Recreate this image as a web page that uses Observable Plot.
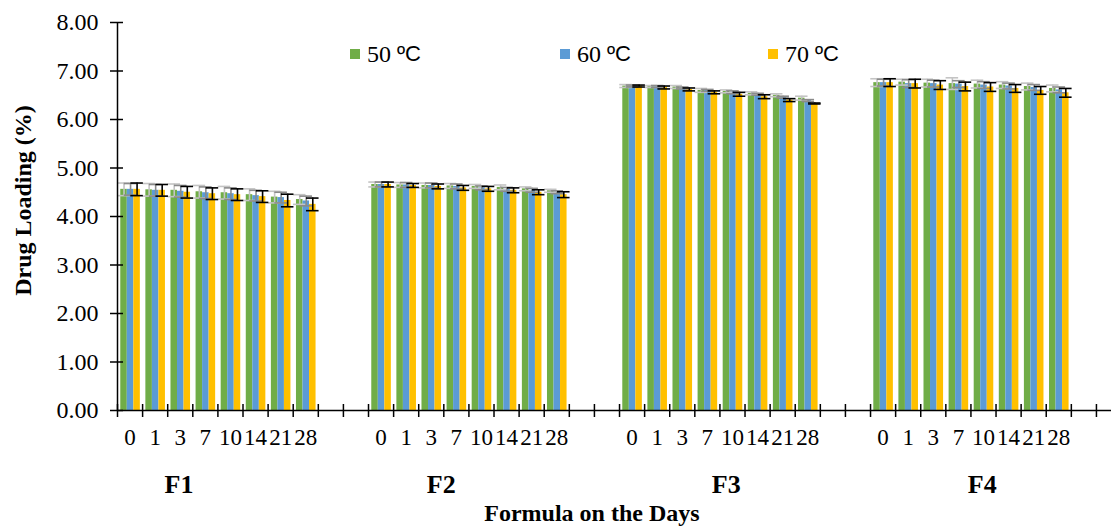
<!DOCTYPE html>
<html>
<head>
<meta charset="utf-8">
<script src="https://cdn.jsdelivr.net/npm/d3@7"></script>
<script src="https://cdn.jsdelivr.net/npm/@observablehq/plot@0.6"></script>
<style>
  html, body { margin: 0; padding: 0; background: #fff; }
  #wrap { position: relative; width: 1111px; height: 527px; }
  .item { position: absolute; top: 41px; height: 26px; display: flex; align-items: center; white-space: nowrap;
          font-family: "Liberation Serif", serif; font-size: 24px; color: #000; }
  .sw { width: 10px; height: 10px; margin-right: 7px; }
  .deg { font-family: "Liberation Sans", sans-serif; font-size: 22px; }
</style>
</head>
<body>
<div id="wrap"></div>
<script>
// ---- data ----
const formulas = ["F1", "F2", "F3", "F4"];
const days = ["0", "1", "3", "7", "10", "14", "21", "28"];
const temps = ["50 ºC", "60 ºC", "70 ºC"];
const colors = ["#70AD47", "#5B9BD5", "#FFC000"];
const errColors = ["#C4C4C4", "#8A8A8A", "#000000"];

// values ordered F1 days..., F2 days..., F3 days..., F4 days...
const loading50 = [4.56, 4.55, 4.54, 4.51, 4.49, 4.45, 4.40, 4.35,
                   4.66, 4.65, 4.64, 4.63, 4.62, 4.60, 4.57, 4.53,
                   6.69, 6.68, 6.67, 6.60, 6.58, 6.54, 6.50, 6.44,
                   6.76, 6.77, 6.75, 6.74, 6.73, 6.71, 6.68, 6.64];
const loading60 = [4.56, 4.54, 4.52, 4.49, 4.47, 4.43, 4.39, 4.32,
                   4.66, 4.65, 4.64, 4.62, 4.59, 4.56, 4.54, 4.50,
                   6.69, 6.68, 6.65, 6.60, 6.56, 6.52, 6.46, 6.39,
                   6.76, 6.74, 6.74, 6.73, 6.71, 6.69, 6.66, 6.61];
const loading70 = [4.56, 4.54, 4.50, 4.47, 4.45, 4.41, 4.33, 4.25,
                   4.66, 4.64, 4.62, 4.59, 4.57, 4.54, 4.50, 4.45,
                   6.69, 6.66, 6.62, 6.56, 6.52, 6.47, 6.40, 6.33,
                   6.76, 6.74, 6.71, 6.68, 6.67, 6.64, 6.60, 6.55];
const err50 = [0.13, 0.13, 0.13, 0.13, 0.13, 0.12, 0.12, 0.10,
               0.05, 0.05, 0.05, 0.05, 0.04, 0.05, 0.04, 0.03,
               0.03, 0.02, 0.03, 0.04, 0.03, 0.03, 0.03, 0.04,
               0.08, 0.06, 0.08, 0.12, 0.08, 0.07, 0.07, 0.07];
const err60 = [0.12, 0.12, 0.12, 0.12, 0.12, 0.11, 0.11, 0.10,
               0.05, 0.05, 0.05, 0.05, 0.04, 0.04, 0.04, 0.03,
               0.02, 0.02, 0.02, 0.02, 0.03, 0.02, 0.02, 0.02,
               0.07, 0.08, 0.07, 0.07, 0.07, 0.06, 0.06, 0.06];
const err70 = [0.13, 0.12, 0.12, 0.12, 0.12, 0.12, 0.13, 0.13,
               0.05, 0.04, 0.05, 0.05, 0.05, 0.05, 0.05, 0.06,
               0.02, 0.03, 0.03, 0.03, 0.04, 0.04, 0.03, 0.01,
               0.08, 0.09, 0.09, 0.09, 0.09, 0.08, 0.08, 0.09];
const yTicks = [0, 1, 2, 3, 4, 5, 6, 7, 8];
const yLabel = "Drug Loading (%)";
const xLabel = "Formula on the Days";

// ---- layout helpers (category slots) ----
const gapSlots = 2;
const perGroup = days.length + gapSlots;     // slots per formula block
const slotCount = 39.6;                      // visible extent of the category axis
const barOffset = 0.13, barWidth = 0.26, capHalf = 0.25;
const fLabelAt = [2.45, 2.9, 4.25, 4.45];    // where each formula label sits in its block
const xTitleAt = 18.9;

const series = [loading50, loading60, loading70];
const errs = [err50, err60, err70];
const rows = [];
series.forEach((vals, k) => vals.forEach((v, j) => {
  const g = Math.floor(j / days.length), d = j % days.length;
  const slot = g * perGroup + d;
  rows.push({formula: formulas[g], day: days[d], temp: temps[k], k, slot,
             x1: slot + barOffset + k * barWidth, x2: slot + barOffset + (k + 1) * barWidth,
             xc: slot + barOffset + (k + 0.5) * barWidth,
             value: v, lo: v - errs[k][j], hi: v + errs[k][j]});
}));
const dayRows = [];
formulas.forEach((f, g) => days.forEach((d, i) => dayRows.push({day: d, slot: g * perGroup + i})));
const boundaries = d3.range(0, Math.floor(slotCount) + 1);

const marks = [];
// bars
temps.forEach((t, k) => {
  marks.push(Plot.rectY(rows.filter(r => r.k === k), {x1: "x1", x2: "x2", y1: 0, y2: "value", fill: colors[k]}));
});
// error bars
temps.forEach((t, k) => {
  const rs = rows.filter(r => r.k === k);
  marks.push(Plot.ruleX(rs, {x: "xc", y1: "lo", y2: "hi", stroke: errColors[k], strokeWidth: 1.6}));
  marks.push(Plot.ruleY(rs, {y: "lo", x1: r => r.xc - capHalf, x2: r => r.xc + capHalf, stroke: errColors[k], strokeWidth: 1.6}));
  marks.push(Plot.ruleY(rs, {y: "hi", x1: r => r.xc - capHalf, x2: r => r.xc + capHalf, stroke: errColors[k], strokeWidth: 1.6}));
});
// axes lines
marks.push(Plot.ruleX([0], {x: d => d, y1: 0, y2: 8, stroke: "#000", strokeWidth: 1.5}));
marks.push(Plot.ruleY([0], {y: d => d, x1: 0, x2: slotCount, stroke: "#000", strokeWidth: 1.5}));
// crossing ticks
marks.push(Plot.ruleX(boundaries, {x: d => d, y1: 0, y2: 0, insetTop: -6, insetBottom: -7, stroke: "#000", strokeWidth: 1.5}));
marks.push(Plot.ruleY(yTicks, {y: d => d, x1: 0, x2: 0, insetLeft: -7, insetRight: -6, stroke: "#000", strokeWidth: 1.5}));
// y tick labels
marks.push(Plot.text(yTicks, {x: 0, y: d => d, text: d => d.toFixed(2), textAnchor: "end", dx: -19,
  fontSize: 24, fontFamily: "Liberation Serif", fill: "#000"}));
// day labels
marks.push(Plot.text(dayRows, {x: d => d.slot + 0.5, y: 0, text: "day", dy: 27,
  fontSize: 23, fontFamily: "Liberation Serif", fill: "#000"}));
// formula labels
marks.push(Plot.text(formulas, {x: (f, g) => g * perGroup + fLabelAt[g], y: 0, text: d => d, dy: 74,
  fontSize: 26, fontWeight: "bold", fontFamily: "Liberation Serif", fill: "#000"}));
// x title
marks.push(Plot.text([xLabel], {x: xTitleAt, y: 0, text: d => d, dy: 103,
  fontSize: 24, fontWeight: "bold", fontFamily: "Liberation Serif", fill: "#000"}));
// y title
marks.push(Plot.text([yLabel], {frameAnchor: "left", y: 4.33, text: d => d, rotate: -90, dx: -94,
  textAnchor: "middle", fontSize: 24, fontWeight: "bold", fontFamily: "Liberation Serif", fill: "#000"}));

const chart = Plot.plot({
  width: 1111,
  height: 527,
  marginLeft: 117,
  marginRight: 0,
  marginTop: 22,
  marginBottom: 117,
  x: {type: "linear", domain: [0, slotCount], axis: null},
  y: {type: "linear", domain: [0, 8], axis: null},
  style: {fontFamily: "Liberation Serif", background: "#fff", overflow: "visible"},
  marks
});
const wrap = document.getElementById("wrap");
wrap.appendChild(chart);

// legend (inside the plot area, as in the reference)
const legendLeft = [350, 560, 768];
temps.forEach((t, k) => {
  const item = document.createElement("div");
  item.className = "item";
  item.style.left = legendLeft[k] + "px";
  const sw = document.createElement("span");
  sw.className = "sw";
  sw.style.background = colors[k];
  const [num, unit] = t.split(" ");
  const n = document.createElement("span");
  n.textContent = num + "\u00A0";
  const u = document.createElement("span");
  u.className = "deg";
  u.textContent = unit;
  item.append(sw, n, u);
  wrap.appendChild(item);
});
</script>
</body>
</html>
